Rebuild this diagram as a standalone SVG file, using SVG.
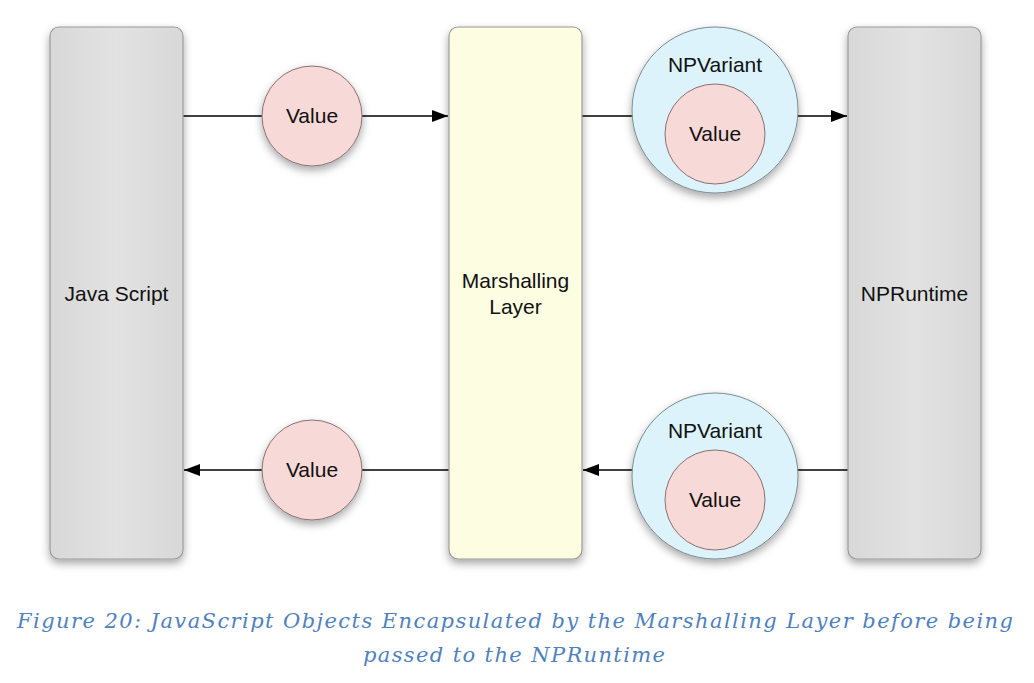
<svg xmlns="http://www.w3.org/2000/svg" width="1034" height="683" viewBox="0 0 1034 683">
<defs>
<filter id="sh" x="-30%" y="-30%" width="160%" height="160%">
<feDropShadow dx="0" dy="4" stdDeviation="4" flood-color="#000" flood-opacity="0.35"/>
</filter>
<linearGradient id="gbox" x1="0" y1="0" x2="1" y2="0">
<stop offset="0" stop-color="#d8d8d8"/><stop offset="0.5" stop-color="#e2e2e2"/><stop offset="1" stop-color="#d8d8d8"/>
</linearGradient>
<marker id="arr" viewBox="0 0 16 12" refX="16" refY="6" markerWidth="16" markerHeight="12" markerUnits="userSpaceOnUse" orient="auto">
<path d="M0,0 L16,6 L0,12 z" fill="#000"/>
</marker>
</defs>
<style>
.box{stroke:#9a9a9a;stroke-width:1.2}
.gray{fill:url(#gbox)}
.yel{fill:#fdfde1}
.val{fill:#f7d9d8;stroke:#8a7070;stroke-width:1}
.var{fill:#dcf3fb;stroke:#7a8a90;stroke-width:1}
.lbl{font-family:"Liberation Sans",Arial,sans-serif;font-size:21px;fill:#111;text-anchor:middle}
.ln{stroke:#000;stroke-width:1.5;fill:none}
.cap{font-family:"DejaVu Serif","Liberation Serif",serif;font-style:italic;font-size:21px;fill:#4f81bd;text-anchor:middle}
</style>
<rect width="1034" height="683" fill="#fff"/>
<g id="connectors">
<line class="ln" x1="183" y1="116" x2="448" y2="116" marker-end="url(#arr)"/>
<line class="ln" x1="582" y1="116" x2="847" y2="116" marker-end="url(#arr)"/>
<line class="ln" x1="449" y1="470" x2="184" y2="470" marker-end="url(#arr)"/>
<line class="ln" x1="848" y1="470" x2="583" y2="470" marker-end="url(#arr)"/>
</g>
<g id="javascript">
<rect class="box gray" x="50" y="27" width="133" height="532" rx="9" filter="url(#sh)"/>
<text class="lbl" x="116.5" y="301">Java Script</text>
</g>
<g id="marshalling">
<rect class="box yel" x="449" y="27" width="133" height="532" rx="9" filter="url(#sh)"/>
<text class="lbl" x="515.5" y="288">Marshalling</text>
<text class="lbl" x="515.5" y="314">Layer</text>
</g>
<g id="npruntime">
<rect class="box gray" x="848" y="27" width="133" height="532" rx="9" filter="url(#sh)"/>
<text class="lbl" x="914.5" y="301">NPRuntime</text>
</g>
<g id="value-top">
<circle class="val" cx="312" cy="116" r="50" filter="url(#sh)"/>
<text class="lbl" x="312" y="123">Value</text>
</g>
<g id="value-bottom">
<circle class="val" cx="312" cy="470" r="50" filter="url(#sh)"/>
<text class="lbl" x="312" y="477">Value</text>
</g>
<g id="npvariant-top">
<circle class="var" cx="715" cy="110" r="83" filter="url(#sh)"/>
<text class="lbl" x="715" y="72">NPVariant</text>
<circle class="val" cx="715" cy="134" r="50"/>
<text class="lbl" x="715" y="141">Value</text>
</g>
<g id="npvariant-bottom">
<circle class="var" cx="715" cy="476" r="83" filter="url(#sh)"/>
<text class="lbl" x="715" y="438">NPVariant</text>
<circle class="val" cx="715" cy="500" r="50"/>
<text class="lbl" x="715" y="507">Value</text>
</g>
<g id="caption">
<text class="cap" x="515" y="628" textLength="996" lengthAdjust="spacing">Figure 20: JavaScript Objects Encapsulated by the Marshalling Layer before being</text>
<text class="cap" x="514" y="662" textLength="302" lengthAdjust="spacing">passed to the NPRuntime</text>
</g>
</svg>
